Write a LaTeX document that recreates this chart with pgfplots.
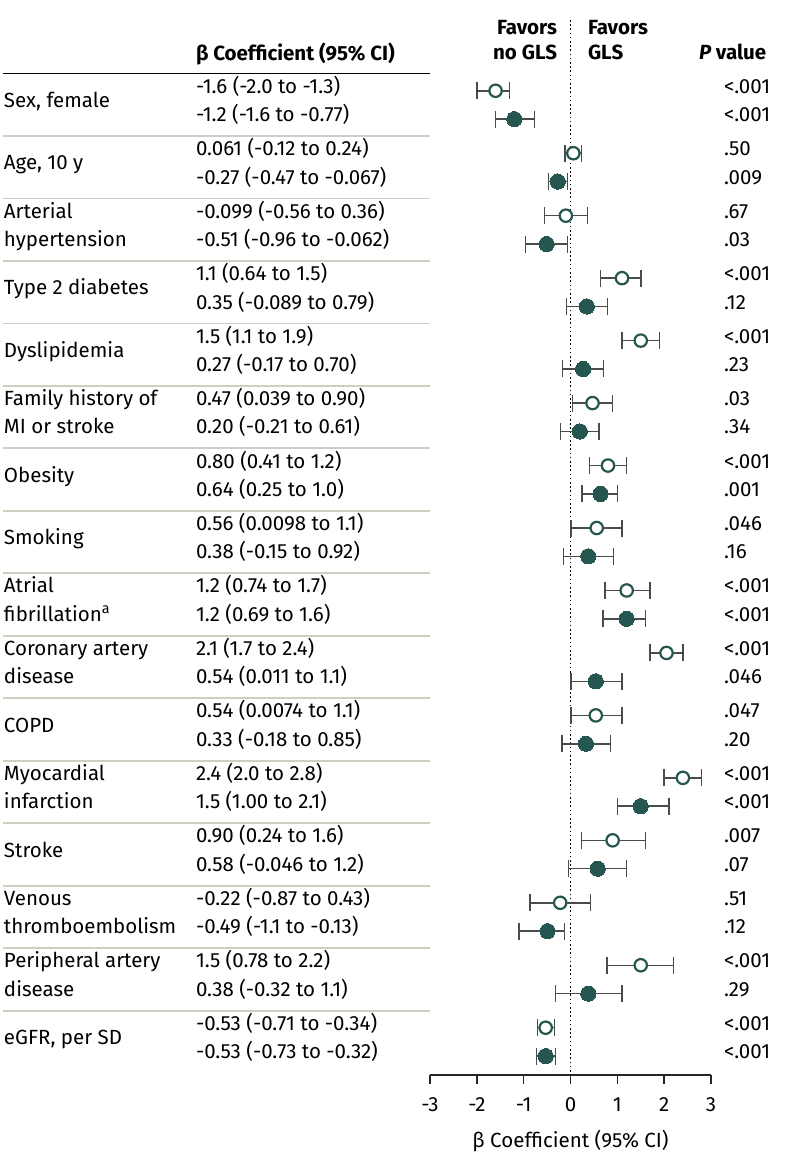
\documentclass[border=0pt]{standalone}
\usepackage{pgfplots}
\pgfplotsset{compat=1.18}
\usepackage{pgfplotstable}
\usepackage{fontspec}
\setmainfont{Fira Sans}
\definecolor{teal}{RGB}{37,87,80}
\definecolor{errgray}{RGB}{75,75,75}
\definecolor{sepgray}{RGB}{205,207,195}

\pgfplotstableread{
y x lo hi
-0.227 -1.6 -2.0 -1.3
0.773 0.061 -0.12 0.24
1.773 -0.099 -0.56 0.36
2.773 1.1 0.64 1.5
3.773 1.5 1.1 1.9
4.773 0.47 0.039 0.90
5.773 0.80 0.41 1.2
6.773 0.56 0.0098 1.1
7.773 1.2 0.74 1.7
8.773 2.05 1.7 2.4
9.773 0.54 0.0074 1.1
10.773 2.4 2.0 2.8
11.773 0.90 0.24 1.6
12.773 -0.22 -0.87 0.43
13.773 1.5 0.78 2.2
14.773 -0.53 -0.71 -0.34
}\opendata

\pgfplotstableread{
y x lo hi
0.227 -1.2 -1.6 -0.77
1.227 -0.27 -0.47 -0.067
2.227 -0.51 -0.96 -0.062
3.227 0.35 -0.089 0.79
4.227 0.27 -0.17 0.70
5.227 0.20 -0.21 0.61
6.227 0.64 0.25 1.0
7.227 0.38 -0.15 0.92
8.227 1.2 0.69 1.6
9.227 0.54 0.011 1.1
10.227 0.33 -0.18 0.85
11.227 1.5 1.00 2.1
12.227 0.58 -0.046 1.2
13.227 -0.49 -1.1 -0.13
14.227 0.38 -0.32 1.1
15.227 -0.53 -0.73 -0.32
}\filleddata

% #1 index, #2 label line 1, #3 label line 2, #4 open coef, #5 filled coef, #6 p open, #7 p filled
\newcommand\grp[7]{%
  \pgfmathsetmacro\yc{1157-(104.8+62.47*#1)}%
  \pgfmathsetmacro\ya{\yc+14.2}%
  \pgfmathsetmacro\yb{\yc-14.2}%
  \if\relax\detokenize{#3}\relax
    \node[anchor=mid west] at (4pt,\yc pt) {#2};
  \else
    \node[anchor=mid west] at (4pt,\ya pt) {#2};
    \node[anchor=mid west] at (4pt,\yb pt) {#3};
  \fi
  \node[anchor=mid west] at (196pt,\ya pt) {#4};
  \node[anchor=mid west] at (196pt,\yb pt) {#5};
  \node[anchor=mid west] at (724pt,\ya pt) {#6};
  \node[anchor=mid west] at (724pt,\yb pt) {#7};
  \ifnum#1>0
    \pgfmathsetmacro\ys{1157-(73.56+62.47*#1)}%
    \draw[sepgray, line width=1.8pt] (3pt,\ys pt) -- (430pt,\ys pt);
  \fi
}

\begin{document}
\begin{tikzpicture}[font=\fontsize{20.5}{24}\selectfont, every node/.style={inner sep=0pt, outer sep=0pt}]
\useasboundingbox (0,0) rectangle (794pt,1157pt);
\begin{axis}[
  at={(430pt,82pt)}, anchor=south west,
  scale only axis, width=281pt, height=1055pt,
  xmin=-3, xmax=3, ymin=-1.36, ymax=15.53, y dir=reverse,
  axis x line=bottom, axis y line=none,
  x axis line style={-, line width=1.5pt, color=black!85},
  xtick={-3,-2,-1,0,1,2,3},
  xticklabels={-3,-2,-1,0,1,2,3},
  tick align=outside, major tick length=9pt,
  tick style={line width=1.4pt, color=black!85},
  xticklabel style={font=\fontsize{20.5}{24}\selectfont, yshift=-14pt},
  ytick=\empty,
  clip=false,
]
\draw[black, line width=1.6pt, dash pattern=on 1.6pt off 2.6pt] (axis cs:0,-1.36) -- (axis cs:0,15.53);
\addplot[only marks, mark=*, mark size=6.2pt,
  mark options={fill=white, draw=teal, line width=2.2pt},
  error bars/.cd, x dir=both, x explicit, error mark=|,
  error bar style={line width=1.5pt, color=errgray},
  error mark options={line width=1.5pt, mark size=8.5pt, color=errgray}]
  table[x=x, y=y, x error plus expr=\thisrow{hi}-\thisrow{x}, x error minus expr=\thisrow{x}-\thisrow{lo}] {\opendata};
\addplot[only marks, mark=*, mark size=7.6pt,
  mark options={fill=teal, draw=teal, line width=0pt},
  error bars/.cd, x dir=both, x explicit, error mark=|,
  error bar style={line width=1.5pt, color=errgray},
  error mark options={line width=1.5pt, mark size=8.5pt, color=errgray}]
  table[x=x, y=y, x error plus expr=\thisrow{hi}-\thisrow{x}, x error minus expr=\thisrow{x}-\thisrow{lo}] {\filleddata};
\end{axis}

% headers
\node[anchor=mid west] at (196pt,1099pt) {\bfseries β Coefficient (95\% CI)};
\node[anchor=mid east] at (557pt,1125pt) {\bfseries Favors};
\node[anchor=mid east] at (557pt,1100pt) {\bfseries no GLS};
\node[anchor=mid west] at (588pt,1125pt) {\bfseries Favors};
\node[anchor=mid west] at (588pt,1100pt) {\bfseries GLS};
\node[anchor=mid west] at (699pt,1100pt) {\bfseries\itshape P\upshape\ value};
\draw[black, line width=1.8pt] (3pt,1083.44pt) -- (430pt,1083.44pt);
\node[anchor=mid] at (570.5pt,12pt) {β Coefficient (95\% CI)};

\grp{0}{Sex, female}{}{-1.6 (-2.0 to -1.3)}{-1.2 (-1.6 to -0.77)}{<.001}{<.001}
\grp{1}{Age, 10 y}{}{0.061 (-0.12 to 0.24)}{-0.27 (-0.47 to -0.067)}{.50}{.009}
\grp{2}{Arterial}{hypertension}{-0.099 (-0.56 to 0.36)}{-0.51 (-0.96 to -0.062)}{.67}{.03}
\grp{3}{Type 2 diabetes}{}{1.1 (0.64 to 1.5)}{0.35 (-0.089 to 0.79)}{<.001}{.12}
\grp{4}{Dyslipidemia}{}{1.5 (1.1 to 1.9)}{0.27 (-0.17 to 0.70)}{<.001}{.23}
\grp{5}{Family history of}{MI or stroke}{0.47 (0.039 to 0.90)}{0.20 (-0.21 to 0.61)}{.03}{.34}
\grp{6}{Obesity}{}{0.80 (0.41 to 1.2)}{0.64 (0.25 to 1.0)}{<.001}{.001}
\grp{7}{Smoking}{}{0.56 (0.0098 to 1.1)}{0.38 (-0.15 to 0.92)}{.046}{.16}
\grp{8}{Atrial}{fibrillation\textsuperscript{a}}{1.2 (0.74 to 1.7)}{1.2 (0.69 to 1.6)}{<.001}{<.001}
\grp{9}{Coronary artery}{disease}{2.1 (1.7 to 2.4)}{0.54 (0.011 to 1.1)}{<.001}{.046}
\grp{10}{COPD}{}{0.54 (0.0074 to 1.1)}{0.33 (-0.18 to 0.85)}{.047}{.20}
\grp{11}{Myocardial}{infarction}{2.4 (2.0 to 2.8)}{1.5 (1.00 to 2.1)}{<.001}{<.001}
\grp{12}{Stroke}{}{0.90 (0.24 to 1.6)}{0.58 (-0.046 to 1.2)}{.007}{.07}
\grp{13}{Venous}{thromboembolism}{-0.22 (-0.87 to 0.43)}{-0.49 (-1.1 to -0.13)}{.51}{.12}
\grp{14}{Peripheral artery}{disease}{1.5 (0.78 to 2.2)}{0.38 (-0.32 to 1.1)}{<.001}{.29}
\grp{15}{eGFR, per SD}{}{-0.53 (-0.71 to -0.34)}{-0.53 (-0.73 to -0.32)}{<.001}{<.001}
\end{tikzpicture}
\end{document}
